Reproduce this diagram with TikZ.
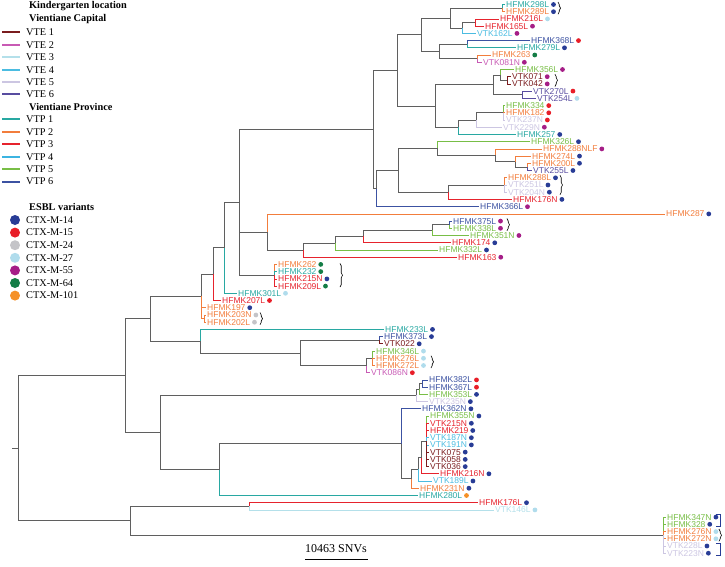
\documentclass[tikz,border=0pt]{standalone}
\usepackage{fontspec}
\setmainfont{Liberation Serif}
\newfontfamily\lblfont{Liberation Sans}
\usetikzlibrary{decorations.pathreplacing}
\definecolor{brgray}{RGB}{95,95,95}
\definecolor{teone}{RGB}{122,28,30}
\definecolor{tetwo}{RGB}{200,90,180}
\definecolor{tethree}{RGB}{180,224,234}
\definecolor{tefour}{RGB}{75,188,225}
\definecolor{tefive}{RGB}{204,198,226}
\definecolor{tesix}{RGB}{88,76,160}
\definecolor{tpone}{RGB}{40,168,162}
\definecolor{tptwo}{RGB}{242,125,60}
\definecolor{tpthree}{RGB}{230,35,45}
\definecolor{tpfour}{RGB}{60,180,225}
\definecolor{tpfive}{RGB}{120,190,70}
\definecolor{tpsix}{RGB}{60,82,162}
\definecolor{ctxa}{RGB}{40,60,150}
\definecolor{ctxb}{RGB}{232,30,40}
\definecolor{ctxc}{RGB}{196,196,200}
\definecolor{ctxd}{RGB}{176,220,236}
\definecolor{ctxe}{RGB}{165,30,135}
\definecolor{ctxf}{RGB}{20,125,70}
\definecolor{ctxg}{RGB}{245,145,40}

\begin{document}
\begin{tikzpicture}[x=1pt, y=-1pt,
  br/.style={draw=brgray, line width=0.7pt},
  tb/.style={draw=#1, line width=0.7pt},
  leaf/.style={anchor=west, inner xsep=1.5pt, inner ysep=0pt, text=#1, font=\lblfont\fontsize{8.5}{8.5}\selectfont, label distance=1pt},
  dot/.style={label={[circle, fill=#1, inner sep=0pt, minimum size=4.8pt]right:{}}},
  swatch/.style={fill=#1, inner sep=0pt, minimum width=18pt, minimum height=2pt},
  key/.style={anchor=west, inner sep=0pt, font=\fontsize{10.3}{12}\selectfont},
  head/.style={anchor=west, inner sep=0pt, font=\fontsize{10.3}{12}\selectfont\bfseries},
  bigdot/.style={circle, fill=#1, inner sep=0pt, minimum size=10pt},
  brk/.style={decorate, decoration={brace, amplitude=2.5pt}, line width=0.6pt},
  sqb/.style={draw=ctxa, line width=0.9pt},
]
\useasboundingbox (0,0) rectangle (725,567);

% legend
\node[head] (kgl) at (29,6) {Kindergarten location};
\node[head] (vcap) at (29,19) {Vientiane Capital};
\node[swatch=teone] (sw1) at (11,32.5) {};    \node[key] (k1) at (26,32.5) {VTE 1};
\node[swatch=tetwo] (sw2) at (11,44.9) {};    \node[key] (k2) at (26,44.9) {VTE 2};
\node[swatch=tethree] (sw3) at (11,57.3) {};  \node[key] (k3) at (26,57.3) {VTE 3};
\node[swatch=tefour] (sw4) at (11,69.7) {};   \node[key] (k4) at (26,69.7) {VTE 4};
\node[swatch=tefive] (sw5) at (11,82.1) {};   \node[key] (k5) at (26,82.1) {VTE 5};
\node[swatch=tesix] (sw6) at (11,94.5) {};    \node[key] (k6) at (26,94.5) {VTE 6};
\node[head] (vprov) at (29,107) {Vientiane Province};
\node[swatch=tpone] (sw7) at (11,119.5) {};   \node[key] (k7) at (26,119.5) {VTP 1};
\node[swatch=tptwo] (sw8) at (11,131.9) {};   \node[key] (k8) at (26,131.9) {VTP 2};
\node[swatch=tpthree] (sw9) at (11,144.3) {}; \node[key] (k9) at (26,144.3) {VTP 3};
\node[swatch=tpfour] (sw10) at (11,156.7) {}; \node[key] (k10) at (26,156.7) {VTP 4};
\node[swatch=tpfive] (sw11) at (11,169.1) {}; \node[key] (k11) at (26,169.1) {VTP 5};
\node[swatch=tpsix] (sw12) at (11,181.5) {};  \node[key] (k12) at (26,181.5) {VTP 6};
\node[head] (esbl) at (29,207) {ESBL variants};
\node[bigdot=ctxa] (cd1) at (15,220) {};   \node[key] (c1) at (26,220) {CTX-M-14};
\node[bigdot=ctxb] (cd2) at (15,232.6) {}; \node[key] (c2) at (26,232.6) {CTX-M-15};
\node[bigdot=ctxc] (cd3) at (15,245.2) {}; \node[key] (c3) at (26,245.2) {CTX-M-24};
\node[bigdot=ctxd] (cd4) at (15,257.8) {}; \node[key] (c4) at (26,257.8) {CTX-M-27};
\node[bigdot=ctxe] (cd5) at (15,270.4) {}; \node[key] (c5) at (26,270.4) {CTX-M-55};
\node[bigdot=ctxf] (cd6) at (15,283) {};   \node[key] (c6) at (26,283) {CTX-M-64};
\node[bigdot=ctxg] (cd7) at (15,295.6) {}; \node[key] (c7) at (26,295.6) {CTX-M-101};

% leaves
\node[leaf=tpone, dot=ctxa] (HFMK298L) at (504.5,4.5) {HFMK298L};
\node[leaf=tptwo, dot=ctxa] (HFMK289L) at (504.5,11.7) {HFMK289L};
\node[leaf=tpthree, dot=ctxd] (HFMK216L) at (498.5,18.9) {HFMK216L};
\node[leaf=tpthree, dot=ctxe] (HFMK165L) at (483.5,26.2) {HFMK165L};
\node[leaf=tefour, dot=ctxe] (VTK162L) at (475.5,33.4) {VTK162L};
\node[leaf=tpsix, dot=ctxb] (HFMK368L) at (529.5,40.6) {HFMK368L};
\node[leaf=tpone, dot=ctxa] (HFMK279L) at (515.5,47.8) {HFMK279L};
\node[leaf=tptwo, dot=ctxf] (HFMK263) at (490.5,55.0) {HFMK263};
\node[leaf=tetwo, dot=ctxe] (VTK081N) at (481.5,62.3) {VTK081N};
\node[leaf=tpfive, dot=ctxe] (HFMK356L) at (513.5,69.5) {HFMK356L};
\node[leaf=teone, dot=ctxe] (VTK071) at (510.5,76.7) {VTK071};
\node[leaf=teone, dot=ctxe] (VTK042) at (510.5,83.9) {VTK042};
\node[leaf=tesix, dot=ctxb] (VTK270L) at (531.5,91.1) {VTK270L};
\node[leaf=tesix, dot=ctxd] (VTK254L) at (535.5,98.4) {VTK254L};
\node[leaf=tpfive, dot=ctxb] (HFMK334) at (504.5,105.6) {HFMK334};
\node[leaf=tptwo, dot=ctxb] (HFMK182) at (504.5,112.8) {HFMK182};
\node[leaf=tefive, dot=ctxb] (VTK237N) at (504.5,120.0) {VTK237N};
\node[leaf=tefive, dot=ctxe] (VTK229N) at (501.5,127.2) {VTK229N};
\node[leaf=tpone, dot=ctxa] (HFMK257) at (515.5,134.5) {HFMK257};
\node[leaf=tpfive, dot=ctxa] (HFMK326L) at (529.5,141.7) {HFMK326L};
\node[leaf=tptwo, dot=ctxe] (HFMK288NLF) at (541.5,148.9) {HFMK288NLF};
\node[leaf=tptwo, dot=ctxa] (HFMK274L) at (530.5,156.1) {HFMK274L};
\node[leaf=tptwo, dot=ctxa] (HFMK200L) at (530.5,163.3) {HFMK200L};
\node[leaf=tesix, dot=ctxa] (VTK255L) at (531.5,170.5) {VTK255L};
\node[leaf=tptwo, dot=ctxa] (HFMK288L) at (506.5,177.8) {HFMK288L};
\node[leaf=tefive, dot=ctxa] (VTK251L) at (506.5,185.0) {VTK251L};
\node[leaf=tefive, dot=ctxa] (VTK204N) at (506.5,192.2) {VTK204N};
\node[leaf=tpthree, dot=ctxa] (HFMK176N) at (511.5,199.4) {HFMK176N};
\node[leaf=tpsix, dot=ctxe] (HFMK366L) at (478.5,206.7) {HFMK366L};
\node[leaf=tptwo, dot=ctxa] (HFMK287) at (664.5,213.9) {HFMK287};
\node[leaf=tpsix, dot=ctxe] (HFMK375L) at (451.5,221.1) {HFMK375L};
\node[leaf=tpfive, dot=ctxe] (HFMK338L) at (451.5,228.3) {HFMK338L};
\node[leaf=tpfive, dot=ctxe] (HFMK351N) at (468.5,235.5) {HFMK351N};
\node[leaf=tpthree, dot=ctxa] (HFMK174) at (450.5,242.8) {HFMK174};
\node[leaf=tpfive, dot=ctxa] (HFMK332L) at (437.5,250.0) {HFMK332L};
\node[leaf=tpthree, dot=ctxe] (HFMK163) at (456.5,257.2) {HFMK163};
\node[leaf=tptwo, dot=ctxf] (HFMK262) at (276.5,264.4) {HFMK262};
\node[leaf=tpone, dot=ctxf] (HFMK232) at (276.5,271.6) {HFMK232};
\node[leaf=tpthree, dot=ctxa] (HFMK215N) at (276.5,278.9) {HFMK215N};
\node[leaf=tpthree, dot=ctxf] (HFMK209L) at (276.5,286.1) {HFMK209L};
\node[leaf=tpone, dot=ctxd] (HFMK301L) at (236.5,293.3) {HFMK301L};
\node[leaf=tpthree, dot=ctxb] (HFMK207L) at (220.5,300.5) {HFMK207L};
\node[leaf=tptwo, dot=ctxa] (HFMK197) at (205.5,307.7) {HFMK197};
\node[leaf=tptwo, dot=ctxc] (HFMK203N) at (205.5,315.0) {HFMK203N};
\node[leaf=tptwo, dot=ctxc] (HFMK202L) at (205.5,322.2) {HFMK202L};
\node[leaf=tpone, dot=ctxa] (HFMK233L) at (383.5,329.4) {HFMK233L};
\node[leaf=tpsix, dot=ctxa] (HFMK373L) at (382.5,336.6) {HFMK373L};
\node[leaf=teone, dot=ctxa] (VTK022) at (382.5,343.8) {VTK022};
\node[leaf=tpfive, dot=ctxd] (HFMK346L) at (374.5,351.1) {HFMK346L};
\node[leaf=tptwo, dot=ctxd] (HFMK276L) at (374.5,358.3) {HFMK276L};
\node[leaf=tptwo, dot=ctxd] (HFMK272L) at (374.5,365.5) {HFMK272L};
\node[leaf=tetwo, dot=ctxb] (VTK086N) at (369.5,372.7) {VTK086N};
\node[leaf=tpsix, dot=ctxb] (HFMK382L) at (427.5,379.9) {HFMK382L};
\node[leaf=tpsix, dot=ctxb] (HFMK367L) at (427.5,387.2) {HFMK367L};
\node[leaf=tpfive, dot=ctxa] (HFMK353L) at (427.5,394.4) {HFMK353L};
\node[leaf=tefive, dot=ctxa] (VTK235N) at (427.5,401.6) {VTK235N};
\node[leaf=tpsix, dot=ctxa] (HFMK362N) at (420.5,408.8) {HFMK362N};
\node[leaf=tpfive, dot=ctxa] (HFMK355N) at (428.5,416.0) {HFMK355N};
\node[leaf=tpthree, dot=ctxa] (VTK215N) at (428.5,423.3) {VTK215N};
\node[leaf=tpthree, dot=ctxa] (HFMK219) at (428.5,430.5) {HFMK219};
\node[leaf=tefour, dot=ctxa] (VTK187N) at (428.5,437.7) {VTK187N};
\node[leaf=tefour, dot=ctxa] (VTK191N) at (428.5,444.9) {VTK191N};
\node[leaf=teone, dot=ctxa] (VTK075) at (428.5,452.1) {VTK075};
\node[leaf=teone, dot=ctxa] (VTK058) at (428.5,459.4) {VTK058};
\node[leaf=teone, dot=ctxa] (VTK036) at (428.5,466.6) {VTK036};
\node[leaf=tpthree, dot=ctxa] (HFMK216N) at (438.5,473.8) {HFMK216N};
\node[leaf=tefour, dot=ctxa] (VTK189L) at (431.5,481.0) {VTK189L};
\node[leaf=tptwo, dot=ctxa] (HFMK231N) at (418.5,488.2) {HFMK231N};
\node[leaf=tpone, dot=ctxg] (HFMK280L) at (417.5,495.5) {HFMK280L};
\node[leaf=tpthree, dot=ctxa] (HFMK176L) at (477.5,502.7) {HFMK176L};
\node[leaf=tethree, dot=ctxd] (VTK146L) at (493.5,509.9) {VTK146L};
\node[leaf=tpfive, dot=ctxa] (HFMK347N) at (665.5,517.1) {HFMK347N};
\node[leaf=tpfive, dot=ctxa] (HFMK328) at (665.5,524.3) {HFMK328};
\node[leaf=tptwo, dot=ctxd] (HFMK276N) at (665.5,531.6) {HFMK276N};
\node[leaf=tptwo, dot=ctxd] (HFMK272N) at (665.5,538.8) {HFMK272N};
\node[leaf=tefive, dot=ctxa] (VTK228L) at (665.5,546.0) {VTK228L};
\node[leaf=tefive, dot=ctxa] (VTK223N) at (665.5,553.2) {VTK223N};

% inner nodes
\coordinate (nP1) at (502,8.1);
\coordinate (n475) at (475,22.55);
\coordinate (n462) at (462,27.98);
\coordinate (n450) at (450,18.04);
\coordinate (nA1) at (467,44.2);
\coordinate (nA2) at (477,58.65);
\coordinate (nA) at (439,51.43);
\coordinate (n421) at (421,34.74);
\coordinate (nP2) at (507,80.3);
\coordinate (n500) at (500,74.9);
\coordinate (n522) at (522,94.75);
\coordinate (n493) at (493,84.83);
\coordinate (n503) at (503,112.8);
\coordinate (n476) at (476,120.0);
\coordinate (n458) at (458,127.25);
\coordinate (n435) at (435,106.04);
\coordinate (n397) at (397,70.39);
\coordinate (n527) at (527,166.9);
\coordinate (n515) at (515,161.5);
\coordinate (n495) at (495,155.2);
\coordinate (n437) at (437,148.45);
\coordinate (n504) at (504,185.0);
\coordinate (n448) at (448,192.2);
\coordinate (n398) at (398,170.33);
\coordinate (n376) at (376,188.52);
\coordinate (n373) at (373,129.46);
\coordinate (n449) at (449,224.7);
\coordinate (n432) at (432,230.1);
\coordinate (n363) at (363,236.45);
\coordinate (n335) at (335,243.23);
\coordinate (n303) at (303,250.21);
\coordinate (n267) at (267,232.06);
\coordinate (n274) at (274,275.25);
\coordinate (n239) at (239,202.36);
\coordinate (n224) at (224,247.83);
\coordinate (n213) at (213,274.17);
\coordinate (n204) at (204,318.6);
\coordinate (n201) at (201,296.39);
\coordinate (n379) at (379,340.2);
\coordinate (n372) at (372,358.3);
\coordinate (n366) at (366,365.5);
\coordinate (n300) at (300,352.85);
\coordinate (n200) at (200,341.13);
\coordinate (n150) at (150,318.76);
\coordinate (n422) at (422,383.55);
\coordinate (n419) at (419,388.98);
\coordinate (n416) at (416,395.29);
\coordinate (n426) at (426,441.3);
\coordinate (n421b) at (421,457.55);
\coordinate (n418) at (418,469.28);
\coordinate (n411) at (411,478.74);
\coordinate (n401) at (401,443.77);
\coordinate (n219) at (219,469.64);
\coordinate (n160) at (160,432.47);
\coordinate (n125) at (125,375.62);
\coordinate (n249) at (249,506.3);
\coordinate (n663) at (663,535.15);
\coordinate (n130) at (130,520.73);
\coordinate (n18) at (18,448.18);
\coordinate (root) at (12,448.18);

% branches
\draw[tb=tpone] (nP1) |- (HFMK298L.west);
\draw[tb=tptwo] (nP1) |- (HFMK289L.west);
\draw[tb=tpthree] (n475) |- (HFMK216L.west) (n475) |- (HFMK165L.west);
\draw[br] (n462) |- (n475);
\draw[tb=tefour] (n462) |- (VTK162L.west);
\draw[br] (n450) |- (nP1) (n450) |- (n462);
\draw[tb=tpsix] (nA1) |- (HFMK368L.west);
\draw[tb=tpone] (nA1) |- (HFMK279L.west);
\draw[tb=tptwo] (nA2) |- (HFMK263.west);
\draw[tb=tetwo] (nA2) |- (VTK081N.west);
\draw[br] (nA) |- (nA1) (nA) |- (nA2);
\draw[br] (n421) |- (n450) (n421) |- (nA);
\draw[tb=teone] (nP2) |- (VTK071.west) (nP2) |- (VTK042.west);
\draw[tb=tpfive] (n500) |- (HFMK356L.west);
\draw[br] (n500) |- (nP2);
\draw[tb=tesix] (n522) |- (VTK270L.west) (n522) |- (VTK254L.west);
\draw[br] (n493) |- (n500) (n493) |- (n522);
\draw[tb=tpfive] (n503) |- (HFMK334.west);
\draw[tb=tptwo] (n503) |- (HFMK182.west);
\draw[tb=tefive] (n503) |- (VTK237N.west);
\draw[br] (n476) |- (n503);
\draw[tb=tefive] (n476) |- (VTK229N.west);
\draw[br] (n458) |- (n476);
\draw[tb=tpone] (n458) |- (HFMK257.west);
\draw[br] (n435) |- (n493) (n435) |- (n458);
\draw[br] (n397) |- (n421) (n397) |- (n435);
\draw[tb=tptwo] (n527) |- (HFMK200L.west);
\draw[tb=tesix] (n527) |- (VTK255L.west);
\draw[tb=tptwo] (n515) |- (HFMK274L.west);
\draw[br] (n515) |- (n527);
\draw[tb=tptwo] (n495) |- (HFMK288NLF.west);
\draw[br] (n495) |- (n515);
\draw[tb=tpfive] (n437) |- (HFMK326L.west);
\draw[br] (n437) |- (n495);
\draw[tb=tptwo] (n504) |- (HFMK288L.west);
\draw[tb=tefive] (n504) |- (VTK251L.west) (n504) |- (VTK204N.west);
\draw[br] (n448) |- (n504);
\draw[tb=tpthree] (n448) |- (HFMK176N.west);
\draw[br] (n398) |- (n437) (n398) |- (n448);
\draw[br] (n376) |- (n398);
\draw[tb=tpsix] (n376) |- (HFMK366L.west);
\draw[br] (n373) |- (n397) (n373) |- (n376);
\draw[tb=tpsix] (n449) |- (HFMK375L.west);
\draw[tb=tpfive] (n449) |- (HFMK338L.west);
\draw[br] (n432) |- (n449);
\draw[tb=tpfive] (n432) |- (HFMK351N.west);
\draw[br] (n363) |- (n432);
\draw[tb=tpthree] (n363) |- (HFMK174.west);
\draw[br] (n335) |- (n363);
\draw[tb=tpfive] (n335) |- (HFMK332L.west);
\draw[br] (n303) |- (n335);
\draw[tb=tpthree] (n303) |- (HFMK163.west);
\draw[tb=tptwo] (n267) |- (HFMK287.west);
\draw[br] (n267) |- (n303);
\draw[tb=tptwo] (n274) |- (HFMK262.west);
\draw[tb=tpone] (n274) |- (HFMK232.west);
\draw[tb=tpthree] (n274) |- (HFMK215N.west) (n274) |- (HFMK209L.west);
\draw[br] (n239) |- (n373) (n239) |- (n267) (n239) |- (n274);
\draw[br] (n224) |- (n239);
\draw[tb=tpone] (n224) |- (HFMK301L.west);
\draw[br] (n213) |- (n224);
\draw[tb=tpthree] (n213) |- (HFMK207L.west);
\draw[tb=tptwo] (n204) |- (HFMK203N.west) (n204) |- (HFMK202L.west);
\draw[br] (n201) |- (n213);
\draw[tb=tptwo] (n201) |- (HFMK197.west) (n201) |- (n204);
\draw[tb=tpsix] (n379) |- (HFMK373L.west);
\draw[tb=teone] (n379) |- (VTK022.west);
\draw[tb=tpfive] (n372) |- (HFMK346L.west);
\draw[tb=tptwo] (n372) |- (HFMK276L.west) (n372) |- (HFMK272L.west);
\draw[br] (n366) |- (n372);
\draw[tb=tetwo] (n366) |- (VTK086N.west);
\draw[br] (n300) |- (n379) (n300) |- (n366);
\draw[tb=tpone] (n200) |- (HFMK233L.west);
\draw[br] (n200) |- (n300);
\draw[br] (n150) |- (n201) (n150) |- (n200);
\draw[tb=tpsix] (n422) |- (HFMK382L.west) (n422) |- (HFMK367L.west);
\draw[br] (n419) |- (n422);
\draw[tb=tpfive] (n419) |- (HFMK353L.west);
\draw[br] (n416) |- (n419);
\draw[tb=tefive] (n416) |- (VTK235N.west);
\draw[tb=tpfive] (n426) |- (HFMK355N.west);
\draw[tb=tpthree] (n426) |- (VTK215N.west) (n426) |- (HFMK219.west);
\draw[tb=tefour] (n426) |- (VTK187N.west) (n426) |- (VTK191N.west);
\draw[tb=teone] (n426) |- (VTK075.west) (n426) |- (VTK058.west) (n426) |- (VTK036.west);
\draw[br] (n421b) |- (n426);
\draw[tb=tpthree] (n421b) |- (HFMK216N.west);
\draw[br] (n418) |- (n421b);
\draw[tb=tefour] (n418) |- (VTK189L.west);
\draw[br] (n411) |- (n418);
\draw[tb=tptwo] (n411) |- (HFMK231N.west);
\draw[tb=tpsix] (n401) |- (HFMK362N.west);
\draw[br] (n401) |- (n411);
\draw[br] (n219) |- (n401);
\draw[tb=tpone] (n219) |- (HFMK280L.west);
\draw[br] (n160) |- (n416) (n160) |- (n219);
\draw[br] (n125) |- (n150) (n125) |- (n160);
\draw[tb=tpthree] (n249) |- (HFMK176L.west);
\draw[tb=tethree] (n249) |- (VTK146L.west);
\draw[tb=tpfive] (n663) |- (HFMK347N.west) (n663) |- (HFMK328.west);
\draw[tb=tptwo] (n663) |- (HFMK276N.west) (n663) |- (HFMK272N.west);
\draw[tb=tefive] (n663) |- (VTK228L.west) (n663) |- (VTK223N.west);
\draw[br] (n130) |- (n249) (n130) |- (n663);
\draw[br] (n18) |- (n125) (n18) |- (n130);
\draw[br] (root) -- (n18);

% brackets
\draw[brk] (558,2) -- (558,14.2);
\draw[brk] (555,74.2) -- (555,86.4);
\draw[brk] (560,175.3) -- (560,194.7);
\draw[brk] (507,218.6) -- (507,230.8);
\draw[brk] (340,263.4) -- (340,287.1);
\draw[brk] (260,312.5) -- (260,324.7);
\draw[brk] (431,355.8) -- (431,368);
\draw[sqb] (716,514.6) -- (720,514.6) -- (720,526.8) -- (716,526.8);
\draw[brk] (719,529.1) -- (719,541.3);
\draw[sqb] (716,543.5) -- (720,543.5) -- (720,555.7) -- (716,555.7);

% scale bar
\node[font=\fontsize{12}{12}\selectfont, inner sep=0pt] (sbtext) at (336,549) {10463 SNVs};
\coordinate (sba) at (305,559);
\coordinate (sbb) at (368,559);
\draw[line width=0.8pt] (sba) -- (sbb);
\end{tikzpicture}
\end{document}
